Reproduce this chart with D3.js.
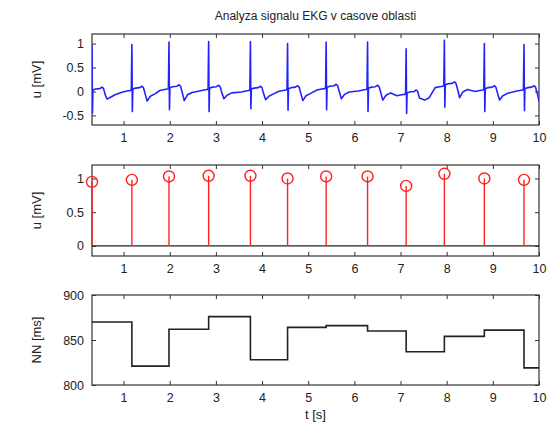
<!DOCTYPE html>
<html>
<head>
<meta charset="utf-8">
<script src="https://cdn.jsdelivr.net/npm/d3@7"></script>
<style>
  body { margin: 0; background: #fff; }
  text { font-family: "Liberation Sans", Arial, sans-serif; fill: #222; }
</style>
</head>
<body>
<svg width="560" height="432"></svg>
<script>
// R peak times [s] and detected R amplitudes [mV]
const rTimes = [0.316, 1.180, 1.984, 2.843, 3.748, 4.553, 5.389, 6.286, 7.122, 7.950, 8.816, 9.675];
const rAmp = [0.95, 0.98, 1.03, 1.04, 1.04, 1.00, 1.03, 1.03, 0.89, 1.07, 1.00, 0.98];
// per beat: S depth, baseline level before R, trough after T wave [mV]
const sAmp = [-0.45, -0.42, -0.38, -0.42, -0.36, -0.39, -0.38, -0.42, -0.46, -0.33, -0.42, -0.40];
const ekgBase = [0.0, 0.02, 0.05, 0.04, 0.02, 0.03, 0.06, 0.04, -0.06, 0.11, 0.03, 0.03];
const ekgTrough = [-0.16, -0.2, -0.19, -0.15, -0.17, -0.19, -0.15, -0.18, -0.15, -0.13, -0.18, -0.21];
// shape of one beat around R (time from R [s], level above baseline [mV])
const preT = [-0.2, -0.1, -0.03, -0.012];
const preV = [-0.03, -0.01, 0.0, 0.03];
const postT = [0.02, 0.08, 0.17, 0.22, 0.25, 0.29];
const postV = [0.03, 0.05, 0.06, 0.09, 0.06, -0.08];
const troughT = 0.33;
const recT = [0.4, 0.5];
const recV = [-0.12, -0.07];
const sT = 0.01;
// NN intervals [ms]
const nnValues = [870, 821, 862, 876, 828, 864, 866, 860, 837, 854, 861, 819];

const xTicks = [1, 2, 3, 4, 5, 6, 7, 8, 9, 10];
const ekgTicks = [-0.5, 0, 0.5, 1];
const ampTicks = [0, 0.5, 1];
const nnTicks = [800, 850, 900];

const svg = d3.select("svg");
const L = 92, R = 539;

const x = d3.scaleLinear().domain([0.316, 10]).range([L, R]);
const yEkg = d3.scaleLinear().domain([-0.7, 1.2]).range([125, 34]);
const yAmp = d3.scaleLinear().domain([-0.15, 1.2]).range([256, 165]);
const yNN = d3.scaleLinear().domain([800, 900]).range([385, 295]);

svg.append("text")
    .attr("x", (L + R) / 2).attr("y", 20)
    .attr("text-anchor", "middle")
    .style("font-size", "12px")
    .text("Analyza signalu EKG v casove oblasti");

function frame(y, yTicks, label, id) {
    const [b, t] = y.range();
    const g = svg.append("g");
    g.append("clipPath").attr("id", id)
        .append("rect").attr("x", L).attr("y", t).attr("width", R - L).attr("height", b - t);

    const fmt = d => String(d);
    const ax = [
        g.append("g").attr("transform", `translate(0,${b})`)
            .call(d3.axisBottom(x).tickValues(xTicks).tickSize(-4).tickPadding(8).tickFormat(fmt)),
        g.append("g").attr("transform", `translate(0,${t})`)
            .call(d3.axisTop(x).tickValues(xTicks).tickSize(-4).tickFormat("")),
        g.append("g").attr("transform", `translate(${L},0)`)
            .call(d3.axisLeft(y).tickValues(yTicks).tickSize(-4).tickPadding(8).tickFormat(fmt)),
        g.append("g").attr("transform", `translate(${R},0)`)
            .call(d3.axisRight(y).tickValues(yTicks).tickSize(-4).tickFormat(""))
    ];
    ax.forEach(a => {
        a.select(".domain").remove();
        a.selectAll("line").attr("stroke", "#333");
        a.selectAll("text").style("font-size", "12.5px").attr("fill", "#222");
    });

    g.append("rect")
        .attr("x", L).attr("y", t).attr("width", R - L).attr("height", b - t)
        .attr("fill", "none").attr("stroke", "#333").attr("stroke-width", 1.2);

    svg.append("text")
        .attr("transform", `translate(41,${(t + b) / 2}) rotate(-90)`)
        .attr("text-anchor", "middle")
        .style("font-size", "13px")
        .text(label);
    return g;
}

// --- top: EKG signal
const gEkg = frame(yEkg, ekgTicks, "u [mV]", "clipEkg");
const ekgPts = rTimes.flatMap((tr, i) => [
    ...preT.map((d, k) => [tr + d, ekgBase[i] + preV[k]]),
    [tr, rAmp[i]],
    [tr + sT, sAmp[i]],
    ...postT.map((d, k) => [tr + d, ekgBase[i] + postV[k]]),
    [tr + troughT, ekgTrough[i]],
    ...recT.map((d, k) => [tr + d, ekgBase[i] + recV[k]])
]);
gEkg.append("path")
    .attr("clip-path", "url(#clipEkg)")
    .attr("d", d3.line().x(d => x(d[0])).y(d => yEkg(d[1]))(ekgPts))
    .attr("fill", "none")
    .attr("stroke", "#2222ff")
    .attr("stroke-width", 1.6)
    .attr("stroke-linejoin", "round");

// --- middle: R amplitudes as stems
const gAmp = frame(yAmp, ampTicks, "u [mV]", "clipAmp");
gAmp.append("line")
    .attr("x1", L).attr("x2", R)
    .attr("y1", yAmp(0)).attr("y2", yAmp(0))
    .attr("stroke", "#222").attr("stroke-width", 1.3);
gAmp.selectAll(".stem").data(rTimes).join("line")
    .attr("x1", d => x(d)).attr("x2", d => x(d))
    .attr("y1", yAmp(0)).attr("y2", (d, i) => yAmp(rAmp[i]))
    .attr("stroke", "#ff2020").attr("stroke-width", 1.4);
gAmp.selectAll(".mark").data(rTimes).join("circle")
    .attr("cx", d => x(d)).attr("cy", (d, i) => yAmp(rAmp[i]))
    .attr("r", 5.5)
    .attr("fill", "none").attr("stroke", "#ff2020").attr("stroke-width", 1.4);

// --- bottom: NN intervals as stairs
const gNN = frame(yNN, nnTicks, "NN [ms]", "clipNN");
const nnPts = rTimes.map((t, i) => [t, nnValues[i]]);
nnPts.push([x.domain()[1], nnValues[nnValues.length - 1]]);
gNN.append("path")
    .attr("clip-path", "url(#clipNN)")
    .attr("d", d3.line().curve(d3.curveStepAfter).x(d => x(d[0])).y(d => yNN(d[1]))(nnPts))
    .attr("fill", "none")
    .attr("stroke", "#222")
    .attr("stroke-width", 1.6);

svg.append("text")
    .attr("x", (L + R) / 2).attr("y", 419)
    .attr("text-anchor", "middle")
    .style("font-size", "13px")
    .text("t [s]");
</script>
</body>
</html>
